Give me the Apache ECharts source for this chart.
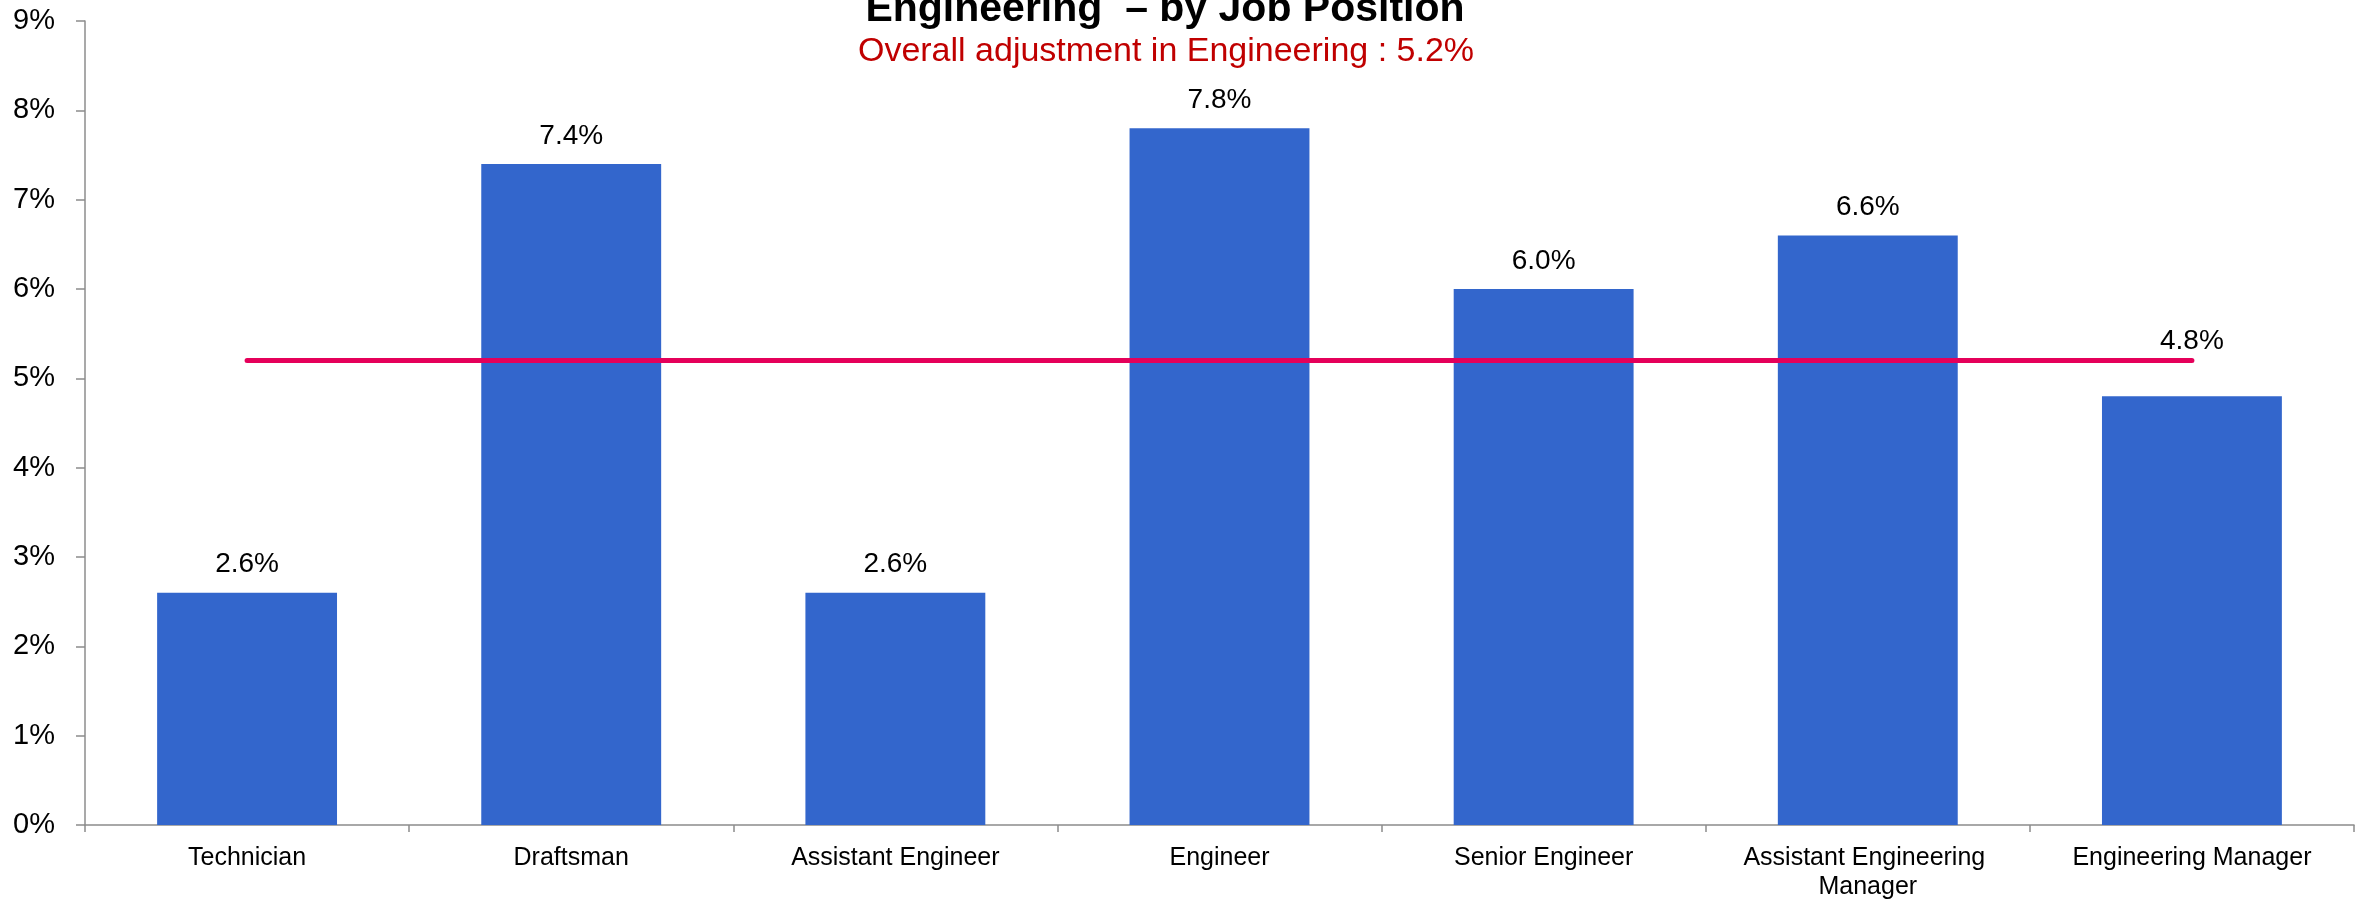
<!DOCTYPE html>
<html>
<head>
<meta charset="utf-8">
<title>Engineering – by Job Position</title>
<script src="https://cdn.jsdelivr.net/npm/echarts@6/dist/echarts.min.js"></script>
<style>
  html, body { margin: 0; padding: 0; background: #ffffff; }
  #chart { width: 2364px; height: 902px; }
</style>
</head>
<body>
<div id="chart"></div>
<script>
// Salary adjustment by job position within Engineering
const positions = ['Technician', 'Draftsman', 'Assistant Engineer', 'Engineer',
                   'Senior Engineer', 'Assistant Engineering Manager', 'Engineering Manager'];
const adjustments = [2.6, 7.4, 2.6, 7.8, 6.0, 6.6, 4.8];
const overallAdjustment = 5.2;
const yTicks = [0, 1, 2, 3, 4, 5, 6, 7, 8, 9];

const FONT = '"Liberation Sans", Arial, sans-serif';
const AXIS_GREY = '#8c8c8c';

const chart = echarts.init(document.getElementById('chart'), null, { renderer: 'canvas' });

const barData = adjustments.map((v, i) => {
  const item = { value: v };
  // last label sits above the overall line
  if (i === adjustments.length - 1) item.label = { distance: 41 };
  return item;
});

chart.setOption({
  animation: false,
  backgroundColor: '#ffffff',
  title: [
    {
      text: 'Engineering  \u2013 by Job Position',
      left: 1165, top: -11, textAlign: 'center', padding: 0,
      textStyle: { fontFamily: FONT, fontWeight: 'bold', fontSize: 41, color: '#000000' }
    },
    {
      text: 'Overall adjustment in Engineering : ' + overallAdjustment.toFixed(1) + '%',
      left: 1166, top: 35, textAlign: 'center', padding: 0,
      textStyle: { fontFamily: FONT, fontWeight: 'normal', fontSize: 34, color: '#C00000' }
    }
  ],
  grid: { left: 85, right: 10, top: 21, bottom: 74, containLabel: false },
  xAxis: {
    type: 'category',
    data: positions,
    boundaryGap: true,
    axisLine: { show: true, lineStyle: { color: AXIS_GREY, width: 1.5 } },
    axisTick: { show: true, alignWithLabel: false, length: 7, lineStyle: { color: AXIS_GREY, width: 1.5 } },
    axisLabel: {
      interval: 0, margin: 19, color: '#000000', fontFamily: FONT, fontSize: 25,
      lineHeight: 29, width: 290, overflow: 'break', align: 'center'
    },
    splitLine: { show: false }
  },
  yAxis: {
    type: 'value',
    min: yTicks[0], max: yTicks[yTicks.length - 1], interval: 1,
    axisLine: { show: true, lineStyle: { color: AXIS_GREY, width: 1.5 } },
    axisTick: { show: true, inside: false, length: 9, lineStyle: { color: AXIS_GREY, width: 1.5 } },
    axisLabel: { margin: 30, color: '#000000', fontFamily: FONT, fontSize: 29, formatter: '{value}%' },
    splitLine: { show: false }
  },
  series: [
    {
      name: 'Adjustment',
      type: 'bar',
      data: barData,
      barWidth: '55.5%',
      itemStyle: { color: '#3366CC' },
      label: {
        show: true, position: 'top', distance: 14,
        color: '#000000', fontFamily: FONT, fontSize: 28,
        formatter: p => p.value.toFixed(1) + '%'
      },
      z: 2
    },
    {
      name: 'Overall',
      type: 'line',
      data: positions.map(() => overallAdjustment),
      symbol: 'none',
      lineStyle: { color: '#E5005A', width: 5, cap: 'round' },
      label: { show: false },
      z: 3
    }
  ]
});
</script>
</body>
</html>
